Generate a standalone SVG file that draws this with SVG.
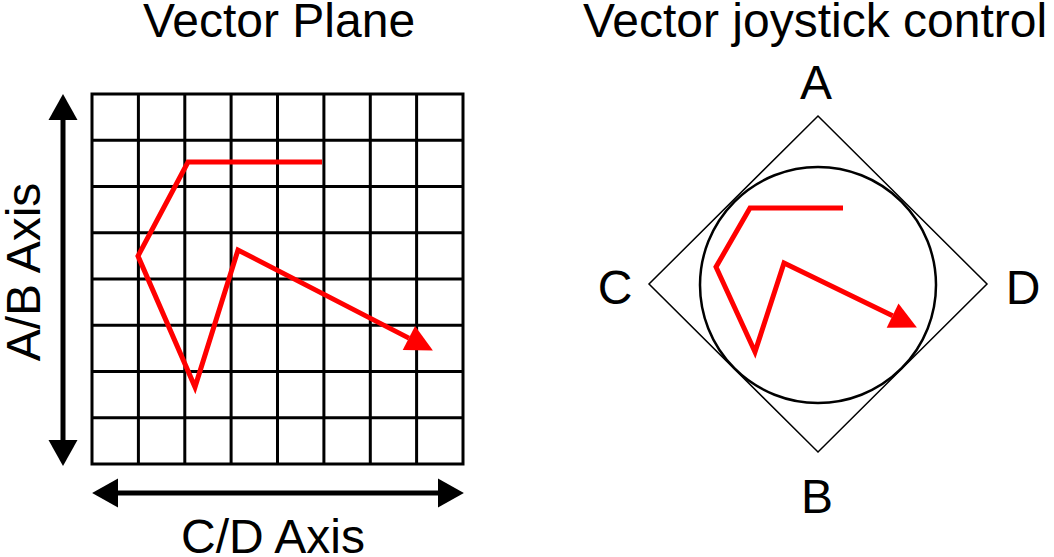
<svg xmlns="http://www.w3.org/2000/svg" width="1054" height="557" viewBox="0 0 1054 557">
<style>
text{font-family:"Liberation Sans",Arial,sans-serif;font-size:48px;fill:#000;text-anchor:middle}
.grid{stroke:#000;stroke-width:3;fill:none}
.red{stroke:#ff0000;stroke-width:5;fill:none;stroke-linejoin:miter}
.blk{stroke:#000;stroke-width:5;fill:none}
</style>
<defs>
<marker id="rh" markerUnits="userSpaceOnUse" markerWidth="27" markerHeight="27" viewBox="0 -13 26 26" refX="0" refY="0" orient="auto" overflow="visible"><path d="M0,-13 L26,0 L0,13 Z" fill="#ff0000"/></marker>
<marker id="bh" markerUnits="userSpaceOnUse" markerWidth="27" markerHeight="29" viewBox="0 -14 25 28" refX="0" refY="0" orient="auto-start-reverse" overflow="visible"><path d="M0,-14 L25,0 L0,14 Z" fill="#000"/></marker>
</defs>
<g id="titles">
<text x="279" y="37">Vector Plane</text>
<text x="815" y="37">Vector joystick control</text>
</g>
<g id="grid">
<rect class="grid" x="92" y="94" width="371" height="370"/>
<path class="grid" d="M138.4,94V464M184.8,94V464M231.1,94V464M277.5,94V464M323.9,94V464M370.3,94V464M416.6,94V464M92,140.25H463M92,186.5H463M92,232.75H463M92,279H463M92,325.25H463M92,371.5H463M92,417.75H463"/>
</g>
<g id="axes">
<line class="blk" x1="63" y1="120" x2="63" y2="440" marker-start="url(#bh)" marker-end="url(#bh)"/>
<line class="blk" x1="118" y1="493" x2="438" y2="493" marker-start="url(#bh)" marker-end="url(#bh)"/>
<text transform="translate(40,272) rotate(-90)">A/B Axis</text>
<text x="273" y="553">C/D Axis</text>
</g>
<g id="plane-vector">
<path class="red" d="M322,162 L188,162 L138,256 L195,387 L238,250 L408.9,338.1" marker-end="url(#rh)"/>
</g>
<g id="joystick">
<polygon points="818,116 987,284 818,452 649,284" fill="none" stroke="#000" stroke-width="1.5"/>
<circle cx="818" cy="285" r="118" fill="none" stroke="#000" stroke-width="2.5"/>
<text x="816" y="99">A</text>
<text x="615" y="304">C</text>
<text x="1023" y="304">D</text>
<text x="817" y="513">B</text>
</g>
<g id="joystick-vector">
<path class="red" d="M843,208 L750,208 L716,267 L755,352 L784,263 L892.6,315.7" marker-end="url(#rh)"/>
</g>
</svg>
